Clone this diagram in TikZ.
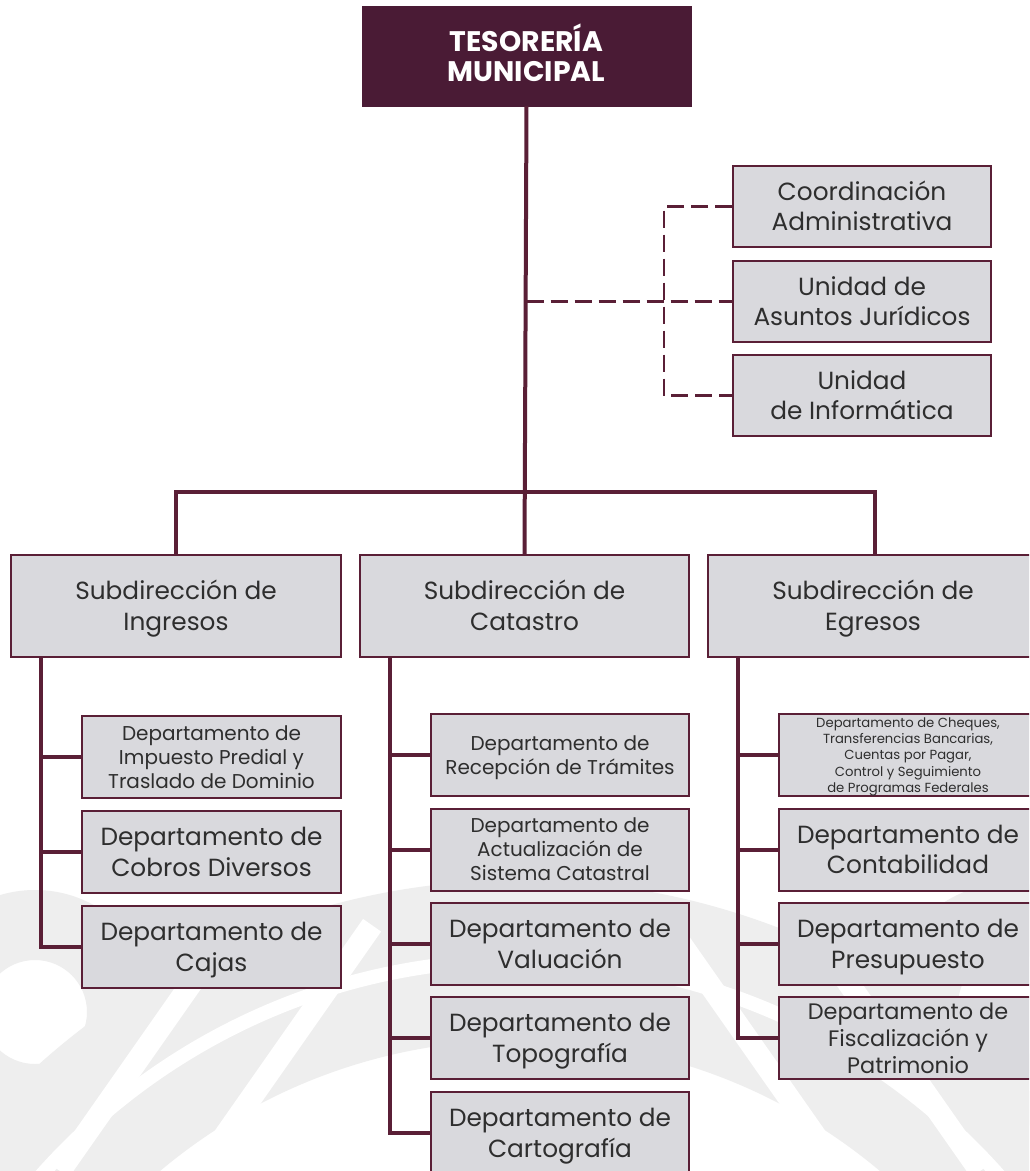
\documentclass[tikz,border=0pt]{standalone}
\usepackage{fontspec}
\setmainfont{Poppins}
\usetikzlibrary{calc}
\definecolor{maroon}{HTML}{5A1F36}
\definecolor{topfill}{HTML}{4A1B35}
\definecolor{boxfill}{HTML}{D9D9DD}
\definecolor{txt}{HTML}{2E2E2E}
\definecolor{wm}{HTML}{EEEEEE}
\newcommand\firstup{\rule{0pt}{1em}}
\begin{document}
\begin{tikzpicture}[x=1pt,y=-1pt,
  box/.style={draw=maroon, fill=boxfill, line width=2pt, align=center, text=txt, inner sep=0pt,
    execute at end node={\vphantom{gp}}},
  topbox/.style={fill=topfill, draw=topfill, align=center, text=white, inner sep=0pt,
    font=\fontsize{28.3}{30}\selectfont\bfseries, execute at end node={\rule[-6pt]{0pt}{0pt}}},
  conn/.style={draw=maroon, line width=4pt, line join=miter},
  dconn/.style={draw=maroon, line width=2.5pt, dash pattern=on 17pt off 7pt},
  fbig/.style={font=\fontsize{24.8}{30.5}\selectfont},
  fmed/.style={font=\fontsize{20}{24}\selectfont},
  ffis/.style={font=\fontsize{22.4}{27}\selectfont},
  fsmall/.style={font=\fontsize{13.2}{16.2}\selectfont},
  rbox/.style={box, fbig, minimum width=258pt, minimum height=81pt},
  sbox/.style={box, fbig, minimum width=330pt, minimum height=102pt},
  dbox/.style={box, minimum width=258pt, minimum height=82pt}
]
\useasboundingbox (0,0) rectangle (1029,1171);
\clip (0,0) rectangle (1029,1171);
\fill[white] (0,0) rectangle (1029,1171);

% faint watermark
\fill[wm, even odd rule] (520,1600) circle[radius=720] (520,1600) circle[radius=560];
\fill[wm, even odd rule] (35,1012) circle[radius=122] (35,1012) circle[radius=52];
\fill[wm, even odd rule] (1010,1005) circle[radius=122] (1010,1005) circle[radius=52];
\draw[white, line width=14pt] (520,1600) circle[radius=640];
\foreach \a/\b in {60/1171,200/1171} \draw[white, line width=22pt] (\a,\b) -- ++(-55:300);
\foreach \a/\b in {980/1171,840/1171} \draw[white, line width=22pt] (\a,\b) -- ++(-125:300);

% top
\node[topbox, minimum width=329pt, minimum height=100pt] (top) at (526.5,56) {TESORERÍA\\MUNICIPAL};

% staff units
\node[rbox] (coord) at (862,206.5) {\firstup Coordinación\\Administrativa};
\node[rbox] (jur) at (862,301.5) {\firstup Unidad de\\Asuntos Jurídicos};
\node[rbox] (inf) at (862,395.5) {\firstup Unidad\\de Informática};

% subdirecciones
\node[sbox] (sing) at (176,606) {\firstup Subdirección de\\Ingresos};
\node[sbox, minimum width=329pt] (scat) at (524.5,606) {\firstup Subdirección de\\Catastro};
\node[sbox] (segr) at (873,606) {\firstup Subdirección de\\Egresos};

% ingresos departments
\node[dbox, minimum width=259pt, fmed] (imp) at (211.5,757) {\firstup Departamento de\\Impuesto Predial y\\Traslado de Dominio};
\node[dbox, minimum width=259pt, fbig] (cob) at (211.5,852) {\firstup Departamento de\\Cobros Diversos};
\node[dbox, minimum width=259pt, fbig] (caj) at (211.5,947) {\firstup Departamento de\\Cajas};

% catastro departments
\node[dbox, fmed] (rec) at (560,755) {\firstup Departamento de\\Recepción de Trámites};
\node[dbox, fmed] (act) at (560,849.5) {\firstup Departamento de\\Actualización de\\Sistema Catastral};
\node[dbox, fbig] (val) at (560,944) {\firstup Departamento de\\Valuación};
\node[dbox, fbig] (topo) at (560,1038) {\firstup Departamento de\\Topografía};
\node[dbox, fbig] (car) at (560,1133) {\firstup Departamento de\\Cartografía};

% egresos departments
\node[dbox, fsmall] (che) at (908,755) {\firstup Departamento de Cheques,\\Transferencias Bancarias,\\Cuentas por Pagar,\\Control y Seguimiento\\de Programas Federales};
\node[dbox, fbig] (con) at (908,849.5) {\firstup Departamento de\\Contabilidad};
\node[dbox, fbig] (pre) at (908,944) {\firstup Departamento de\\Presupuesto};
\node[dbox, ffis] (fis) at (908,1038) {\firstup Departamento de\\Fiscalización y\\Patrimonio};

% main trunk
\draw[conn] (top.south) -- (scat.north);
\coordinate (bar) at (0,492);
\draw[conn] (sing.north) -- (sing.north |- bar) -- (875,492) -- (875,555);

% staff dashed
\coordinate (dx) at (664,0);
\draw[dconn] (top.south |- jur.west) -- (jur.west);
\draw[dconn] (coord.west) -- (dx |- coord.west) -- (dx |- inf.west) -- (inf.west);

% ingresos column
\coordinate (ix) at (41,0);
\draw[conn] (ix |- sing.south) -- (ix |- caj.west) -- (caj.west);
\draw[conn] (ix |- imp.west) -- (imp.west);
\draw[conn] (ix |- cob.west) -- (cob.west);

% catastro column
\coordinate (cx) at (390,0);
\draw[conn] (cx |- scat.south) -- (cx |- car.west) -- (car.west);
\foreach \n in {rec,act,val,topo} \draw[conn] (cx |- \n.west) -- (\n.west);

% egresos column
\coordinate (ex) at (738,0);
\draw[conn] (ex |- segr.south) -- (ex |- fis.west) -- (fis.west);
\foreach \n in {che,con,pre} \draw[conn] (ex |- \n.west) -- (\n.west);
\end{tikzpicture}
\end{document}
